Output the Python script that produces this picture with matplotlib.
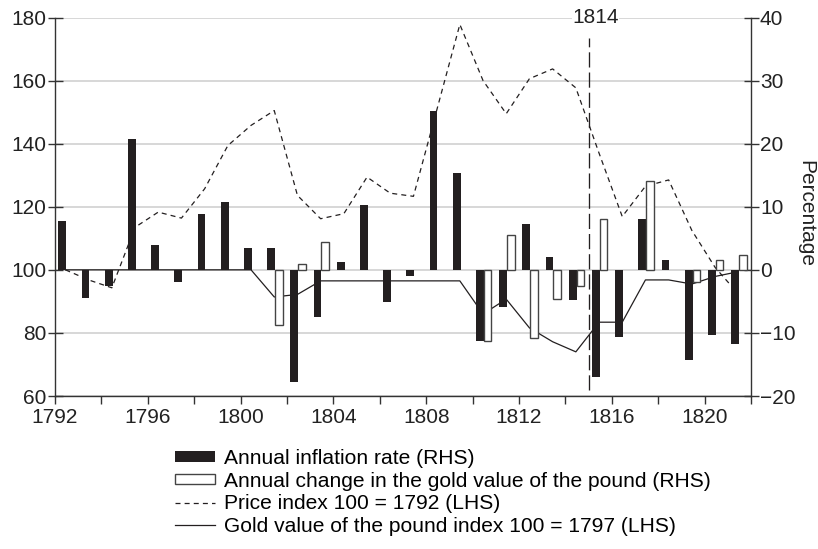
import matplotlib
matplotlib.use("Agg")
import matplotlib.pyplot as plt
import numpy as np
from matplotlib.patches import Patch
from matplotlib.lines import Line2D

plt.rcParams['font.family'] = ['Liberation Sans', 'DejaVu Sans']

# ---- data ----
years = list(range(1792, 1822))
inflation = [7.7, -4.5, -2.6, 20.8, 4.0, -2.0, 8.8, 10.7, 3.5, 3.5,
             -17.8, -7.5, 1.3, 10.2, -5.1, -0.9, 25.1, 15.3, -11.3, -5.9,
             7.3, 2.0, -4.8, -17.0, -10.6, 8.1, 1.5, -14.3, -10.4, -11.7]
gold_change = [None, None, None, None, None, None, None, None, None, -8.7,
               1.0, 4.4, None, None, None, None, None, None, -11.3, 5.5,
               -10.8, -4.7, -2.5, 8.0, None, 14.1, None, -2.0, 1.5, 2.4]
price_index = [100, 96.8, 94.3, 113.5, 118.3, 116.4, 125.7, 139.4, 145.8, 150.5,
               123.6, 116.2, 117.8, 129.4, 124.3, 123.3, 150.5, 177.8, 160.0, 149.5,
               160.6, 163.7, 157.7, 137.0, 116.9, 126.5, 128.5, 112.5, 100.8, 92.4]
gold_index = [100, 100, 100, 100, 100, 100, 100, 100, 100, 91.4,
              92.2, 96.5, 96.5, 96.5, 96.5, 96.5, 96.5, 96.5, 86.0, 90.7,
              81.6, 77.2, 74.0, 83.4, 83.4, 96.8, 96.8, 95.5, 97.9, 99.4]
tick_years = [1792, 1796, 1800, 1804, 1808, 1812, 1816, 1820]
marker_label = "1814"
marker_pos = 1815  # position of the vertical marker on the axis

legend_labels = ["Annual inflation rate (RHS)",
                 "Annual change in the gold value of the pound (RHS)",
                 "Price index 100 = 1792 (LHS)",
                 "Gold value of the pound index 100 = 1797 (LHS)"]

# ---- figure ----
W, H = 818, 549
fig = plt.figure(figsize=(W / 100, H / 100), dpi=100)
left, right, top, bottom = 55, 751, 17.5, 396
ax = fig.add_axes([left / W, 1 - bottom / H, (right - left) / W, (bottom - top) / H])
ax2 = ax.twinx()

FS = 15
LFS = 15.1
dark = '#231f20'
axcol = '#333333'

idx = np.arange(len(years))
x0 = years[0]
xl = idx + 0.45

# lines (LHS)
ax.plot(xl, price_index, color=dark, lw=0.9, ls=(0, (4, 3.3)), zorder=3)
ax.plot(xl, gold_index, color=dark, lw=0.9, ls='-', zorder=3)

# bars (RHS)
bw = 0.33
ax2.bar(idx + 0.315, inflation, width=bw, color=dark, edgecolor='none', zorder=3)
gi = [i for i, v in enumerate(gold_change) if v is not None]
gv = [gold_change[i] for i in gi]
ax2.bar(np.array(gi) + 0.645, gv, width=bw, facecolor='white', edgecolor='#444444',
        linewidth=1.0, zorder=3)

# vertical marker
mx = marker_pos - x0
ax.vlines(mx, 61.9, 173.6, color=dark, lw=0.95, ls=(0, (11.5, 3.8)), zorder=5)
ax.text(mx + 0.3, 180, marker_label, ha='center', va='center', fontsize=FS,
        color='#222222', zorder=6,
        bbox=dict(facecolor='white', edgecolor='none', pad=0.5))

# axes setup
ax.set_xlim(0, 30)
ax.set_ylim(60, 180)
ax2.set_ylim(-20, 40)
ax.set_yticks(np.arange(60, 181, 20))
ax2.set_yticks(np.arange(-20, 41, 10))
ax.set_xticks(np.arange(0, 31, 2))
ax.set_xticklabels([str(x0 + t) if (x0 + t) in tick_years else '' for t in range(0, 31, 2)])

ax.grid(axis='y', color='#d4d4d4', lw=1.3, zorder=0)
ax.set_axisbelow(True)
ax.spines['top'].set_visible(False)
ax2.spines['top'].set_visible(False)
ax2.spines['left'].set_visible(False)
ax2.spines['bottom'].set_visible(False)
ax.spines['right'].set_visible(False)
for s in ['left', 'bottom']:
    ax.spines[s].set_color(axcol)
    ax.spines[s].set_linewidth(1.0)
ax2.spines['right'].set_color(axcol)
ax2.spines['right'].set_linewidth(1.0)

ax.tick_params(axis='y', direction='inout', length=10.8, width=1.0, color=axcol,
               labelsize=FS, labelcolor='#222222', pad=1)
ax2.tick_params(axis='y', direction='inout', length=10.8, width=1.0, color=axcol,
                labelsize=FS, labelcolor='#222222', pad=1)
ax.tick_params(axis='x', direction='out', length=5.8, width=1.0, color=axcol,
               labelsize=FS, labelcolor='#222222', pad=3)

ax2.set_ylabel('Percentage', rotation=270, fontsize=FS, color='#222222', va='center', ha='center')
ax2.yaxis.set_label_coords((806 - left) / (right - left), (bottom - 213) / (bottom - top))

handles = [Patch(facecolor=dark, edgecolor='none'),
           Patch(facecolor='white', edgecolor='#444444', linewidth=1.0),
           Line2D([], [], color=dark, lw=0.9, ls=(0, (4, 3.3))),
           Line2D([], [], color=dark, lw=0.9, ls='-')]
fig.legend(handles, legend_labels, loc='upper left',
           bbox_to_anchor=(175 / W, 1 - 449 / H), frameon=False, fontsize=LFS,
           handlelength=1.9, handleheight=0.4, handletextpad=0.42,
           labelspacing=0.17, borderpad=0, borderaxespad=0)

fig.savefig('out.png', dpi=100)
